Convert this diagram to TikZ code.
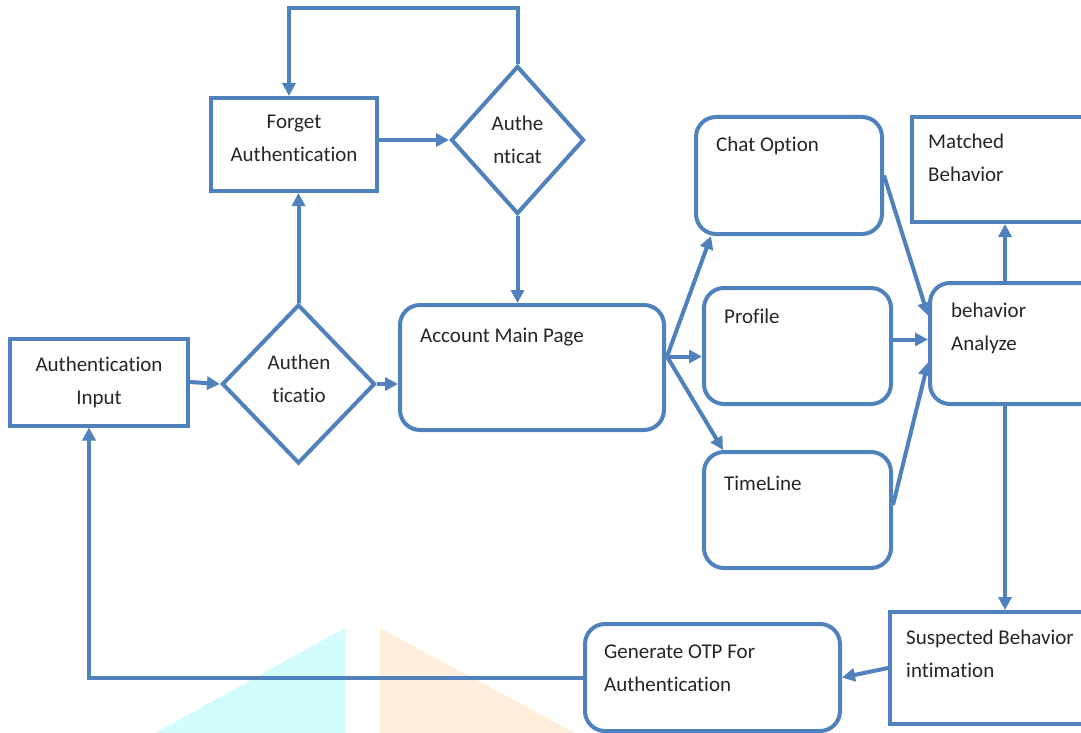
\documentclass[tikz,border=0pt]{standalone}
\usepackage{fontspec}
\setmainfont{Carlito}[Ligatures=NoCommon]
\usetikzlibrary{shapes.geometric,arrows.meta,calc}
\definecolor{ln}{HTML}{4F81BD}
\definecolor{wmc}{HTML}{D2FCFC}
\definecolor{wmo}{HTML}{FFEEDC}
\begin{document}
\begin{tikzpicture}[x=1pt,y=-1pt,
  lbl/.style={font=\fontsize{21}{33}\selectfont, text=black!85},
  box/.style={lbl, draw=ln, line width=4pt, rectangle, inner sep=0pt, align=center},
  rbox/.style={box, rounded corners=20pt},
  dia/.style={lbl, draw=ln, line width=4pt, diamond, inner sep=0pt, align=center},
  arr/.style={draw=ln, line width=4pt, -{Triangle[length=13pt,width=13pt]}},
  txt/.style={lbl, anchor=west, align=left, inner sep=0pt},
  ctxt/.style={lbl, align=center, inner sep=0pt}]
\path[use as bounding box, clip] (0,0) rectangle (1081,733);
\fill[white] (0,0) rectangle (1081,733);
% watermark
\fill[wmc] (155,733) -- (345,628) -- (345,733) -- cycle;
\fill[wmo] (380,628) -- (380,733) -- (575,733) -- cycle;
% nodes
\node[box, minimum width=178, minimum height=87] (ai) at (99,382) {Authentication\\Input};
\node[dia, minimum width=153, minimum height=159] (d1) at (298.5,384) {};
\node[box, minimum width=166, minimum height=93] (fa) at (294,144.5) {};
\node[dia, minimum width=133, minimum height=148] (d2) at (517.5,140) {Authe\\nticat};
\node[rbox, minimum width=264, minimum height=125] (amp) at (532,367.5) {};
\node[rbox, minimum width=186, minimum height=117] (chat) at (789,175.5) {};
\node[rbox, minimum width=187, minimum height=116] (prof) at (797.5,346) {};
\node[rbox, minimum width=187, minimum height=116] (tl) at (797.5,510) {};
\node[box, minimum width=200, minimum height=105] (mb) at (1012,169.5) {};
\node[rbox, minimum width=170, minimum height=121] (ba) at (1015,343.5) {};
\node[box, minimum width=215, minimum height=112] (sb) at (997.5,668) {};
\node[rbox, minimum width=255, minimum height=107] (otp) at (712.5,677.5) {};
% texts
\node[ctxt] (d1t) at (299,379) {Authen\\ticatio};
\node[ctxt] (fat) at (294,138) {Forget\\Authentication};
\node[txt] (ampt) at (420,337) {Account Main Page};
\node[txt] (chatt) at (716,146) {Chat Option};
\node[txt] (proft) at (724,316) {Profile};
\node[txt] (tlt) at (724,483) {TimeLine};
\node[txt] (mbt) at (928,157.5) {Matched\\Behavior};
\node[txt] (bat) at (951,328.5) {behavior\\Analyze};
\node[txt] (sbt) at (906,654) {Suspected Behavior\\intimation};
\node[txt] (otpt) at (604,668) {Generate OTP For\\Authentication};
% coordinates
\coordinate (loop) at (289,8);
\coordinate (fan) at ($(amp.east)+(1,-11)$);
\coordinate (bx) at (1005,0);
% connectors
\draw[arr] (ai.east) -- (d1.west);
\draw[arr] (d1.east) -- (d1.east -| amp.west);
\draw[arr] (d1.north) -- (d1.north |- fa.south);
\draw[arr] (d2.west -| fa.east) -- (d2.west);
\draw[arr] (d2.north) |- (loop) -- (loop |- fa.north);
\draw[arr] (d2.south) -- (d2.south |- amp.north);
\draw[arr] (fan) -- ($(chat.south west)+(17,0)$);
\draw[arr] (fan) -- (fan -| prof.west);
\draw[arr] (fan) -- ($(tl.north west)+(21,0)$);
\draw[arr] (chat.east) -- ($(ba.west)+(0,-28)$);
\draw[arr] ($(ba.west -| prof.east)+(0,-4)$) -- ($(ba.west)+(0,-4)$);
\draw[arr] ($(tl.east)+(0,-5)$) -- ($(ba.west)+(0,19)$);
\draw[arr] (bx |- ba.north) -- (bx |- mb.south);
\draw[arr] (bx |- ba.south) -- (bx |- sb.north);
\draw[arr] (sb.west) -- (otp.east);
\draw[arr] (otp.west) -| ($(ai.south)+(-10,0)$);
\end{tikzpicture}
\end{document}
